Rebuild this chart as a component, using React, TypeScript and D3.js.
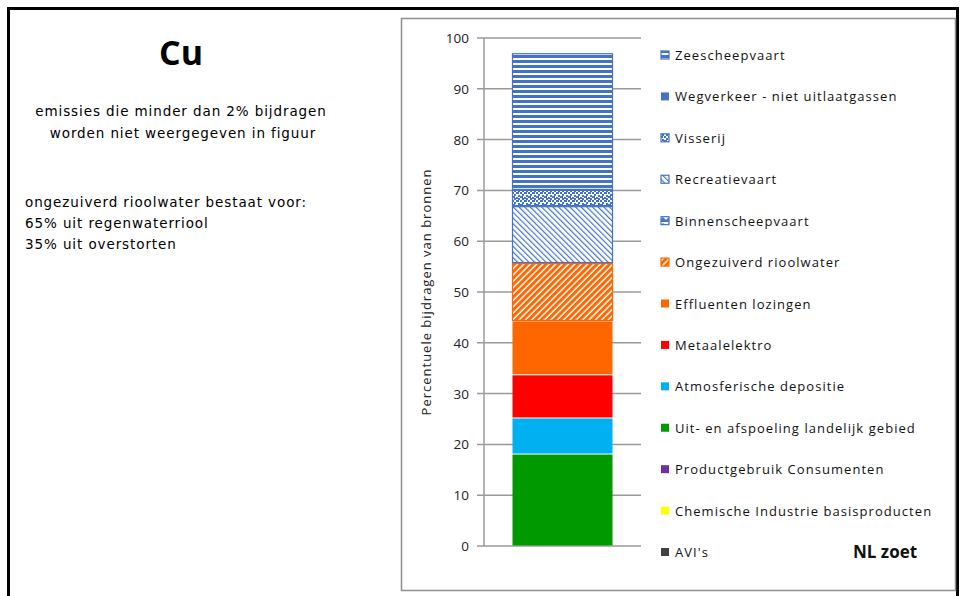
import React from 'react';
import * as d3 from 'd3';

// stack order, bottom to top
const sources = [
  "AVI's",
  'Chemische Industrie basisproducten',
  'Productgebruik Consumenten',
  'Uit- en afspoeling landelijk gebied',
  'Atmosferische depositie',
  'Metaalelektro',
  'Effluenten lozingen',
  'Ongezuiverd rioolwater',
  'Binnenscheepvaart',
  'Recreatievaart',
  'Visserij',
  'Wegverkeer - niet uitlaatgassen',
  'Zeescheepvaart',
];
const shares = [0, 0, 0, 18.1, 7.1, 8.5, 10.6, 11.4, 0, 11.2, 3.2, 0, 26.9];
const fills = [
  '#404040', '#FFFF00', '#7030A0', '#009900', '#00B0F0', '#FF0000', '#FF6600',
  'url(#hatchOrange)', 'url(#weaveBlue)', 'url(#hatchBlue)', 'url(#confettiBlue)',
  '#4472C4', 'url(#stripeBlue)',
];
const outlines = [
  null, null, null, null, null, null, null,
  '#FF6600', '#4472C4', '#4472C4', '#4472C4', null, '#4472C4',
];
const yTicks = [0, 10, 20, 30, 40, 50, 60, 70, 80, 90, 100];
const category = 'NL zoet';

const BLUE = '#4472C4';

const App = () => {
  const y = d3.scaleLinear().domain([0, 100]).range([546, 38]);
  const x = d3.scaleBand().domain([category]).range([484, 641]).padding(0.217);

  const table = [Object.fromEntries(sources.map((s, i) => [s, shares[i]]))];
  const stacked = d3.stack().keys(sources)(table as any);

  const legendY = d3.scalePoint().domain(sources.slice().reverse()).range([55, 552]);

  return (
    <svg width={960} height={596} style={{ position: 'absolute', left: 0, top: 0 }}>
      <defs>
        <pattern id="stripeBlue" patternUnits="userSpaceOnUse" width={6} height={5}>
          <rect width={6} height={5} fill="#fff" />
          <rect width={6} height={3} fill={BLUE} />
        </pattern>
        <pattern id="confettiBlue" patternUnits="userSpaceOnUse" width={8} height={8}>
          <rect width={8} height={8} fill="#fff" />
          <rect x={0} y={0} width={2} height={2} fill={BLUE} />
          <rect x={4} y={0} width={3} height={2} fill={BLUE} />
          <rect x={2} y={2} width={2} height={2} fill={BLUE} />
          <rect x={6} y={3} width={2} height={2} fill={BLUE} />
          <rect x={0} y={4} width={3} height={2} fill={BLUE} />
          <rect x={4} y={5} width={2} height={2} fill={BLUE} />
          <rect x={2} y={6} width={2} height={2} fill={BLUE} />
          <rect x={6} y={6} width={2} height={2} fill={BLUE} />
        </pattern>
        <pattern id="hatchBlue" patternUnits="userSpaceOnUse" width={4} height={4}
          patternTransform="rotate(-45)">
          <rect width={4} height={4} fill="#fff" />
          <rect width={1.2} height={4} fill={BLUE} />
        </pattern>
        <pattern id="hatchOrange" patternUnits="userSpaceOnUse" width={4.5} height={4}
          patternTransform="rotate(45)">
          <rect width={4.5} height={4} fill="#fff" />
          <rect width={3} height={4} fill="#FF6600" />
        </pattern>
        <pattern id="weaveBlue" patternUnits="userSpaceOnUse" width={6} height={6}>
          <rect width={6} height={6} fill="#fff" />
          <path d="M0,4 L3,1 L6,4 L6,6 L0,6 Z" fill={BLUE} />
        </pattern>
      </defs>

      {/* outer frame */}
      <rect x={8.5} y={8.5} width={949} height={620} fill="none" stroke="#000" strokeWidth={3} />

      {/* left notes */}
      <g fontFamily="DejaVu Sans, Verdana, sans-serif" fill="#000" fontSize={13.5} letterSpacing={0.9}>
        <text x={181} y={65} textAnchor="middle" fontFamily="Open Sans, sans-serif"
          fontWeight="bold" fontSize={34} letterSpacing={0}>Cu</text>
        <text x={181} y={116} textAnchor="middle">emissies die minder dan 2% bijdragen</text>
        <text x={183} y={138} textAnchor="middle">worden niet weergegeven in figuur</text>
        <text x={25} y={207}>ongezuiverd rioolwater bestaat voor:</text>
        <text x={25} y={228}>65% uit regenwaterriool</text>
        <text x={25} y={249}>35% uit overstorten</text>
      </g>

      {/* chart box */}
      <rect x={401.5} y={18.5} width={554} height={572} fill="#fff" stroke="#8f8f8f" strokeWidth={1.5} />

      {/* gridlines and ticks */}
      <g>
        {yTicks.map(t => (
          <g key={t}>
            <line x1={477} x2={641} y1={y(t)} y2={y(t)} stroke="#9a9a9a" strokeWidth={1.5} />
            <text x={469} y={y(t) + 5} textAnchor="end" fontFamily="Open Sans, sans-serif"
              fontSize={13.5} fill="#222">{t}</text>
          </g>
        ))}
        <line x1={484} x2={484} y1={y(100)} y2={y(0)} stroke="#9a9a9a" strokeWidth={1.5} />
      </g>

      <text transform="translate(431,292) rotate(-90)" textAnchor="middle"
        fontFamily="Open Sans, sans-serif" fontSize={13} letterSpacing={1} fill="#222">
        Percentuele bijdragen van bronnen
      </text>

      {/* stacked bar */}
      <g>
        {stacked.map((layer, i) => {
          const d = layer[0];
          const h = y(d[0]) - y(d[1]);
          if (h <= 0) return null;
          return (
            <rect key={layer.key}
              x={x(category)! + 0.5} width={x.bandwidth() - 1}
              y={y(d[1]) + 0.5} height={h - 1}
              fill={fills[i]}
              stroke={outlines[i] || 'none'} strokeWidth={outlines[i] ? 1.2 : 0} />
          );
        })}
      </g>

      {/* legend */}
      <g fontFamily="Open Sans, sans-serif" fontSize={13} fill="#111">
        {sources.map((s, i) => {
          const ly = legendY(s)!;
          return (
            <g key={s}>
              <rect x={661} y={ly - 4} width={8} height={8} fill={fills[i]}
                stroke={outlines[i] || 'none'} strokeWidth={outlines[i] ? 1.2 : 0} />
              <text x={675} y={ly + 5} letterSpacing={1.05}>{s}</text>
            </g>
          );
        })}
      </g>

      <text x={853} y={558} fontFamily="Open Sans, sans-serif" fontWeight="bold" fontSize={17}
        fill="#111">{category}</text>
    </svg>
  );
};

export default App;
